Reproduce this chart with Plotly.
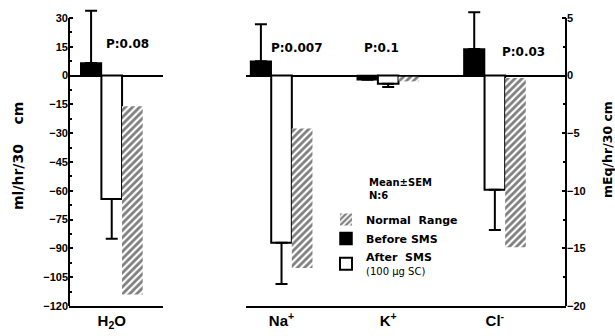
import plotly.graph_objects as go

W, H = 615, 336

# ---- data ----
water_cat = ["H<sub>2</sub>O"]
ion_cats = ["Na<sup>+</sup>", "K<sup>+</sup>", "Cl<sup>-</sup>"]

water_before = [6.5]
water_before_sem = [27.3]
water_after = [-64.3]
water_after_sem = [20.7]
water_norm_high = [-16.0]
water_norm_low = [-114.0]

ion_before = [1.25, -0.35, 2.3]
ion_before_sem = [3.2, 0.25, 3.2]
ion_after = [-14.5, -0.7, -9.9]
ion_after_sem = [3.6, 0.3, 3.5]
ion_norm_high = [-4.6, -0.1, -0.2]
ion_norm_low = [-16.7, -0.5, -14.9]

p_water = ["P:0.08"]
p_ions = ["P:0.007", "P:0.1", "P:0.03"]

left_ticks = list(range(-120, 31, 15))
right_ticks = list(range(-20, 6, 5))

# ---- helpers ----
def px(x):
    return x / W

def py(y):
    return 1 - y / H

BOLD = dict(family="Liberation Sans, Arial, sans-serif", color="black", weight="bold")
WIDE = dict(family="DejaVu Sans, sans-serif", color="black", weight="bold")
hatch = dict(shape="/", fgcolor="black", bgcolor="white", size=5, solidity=0.55)

fig = go.Figure()

def add_set(cats, before, bsem, after, asem, nhigh, nlow, xa, ya, show):
    zeros = [0] * len(cats)
    fig.add_trace(go.Bar(
        x=cats, y=before, name="Before SMS", xaxis=xa, yaxis=ya,
        marker=dict(color="black", line=dict(color="black", width=1.5)),
        error_y=dict(type="data", symmetric=False, array=bsem, arrayminus=zeros,
                     color="black", thickness=2, width=6),
        showlegend=show, legendgroup="b", legendrank=2,
    ))
    fig.add_trace(go.Bar(
        x=cats, y=after,
        name="After  SMS<br><span style='font-weight:normal;font-size:10px'>(100 µg SC)</span>",
        xaxis=xa, yaxis=ya,
        marker=dict(color="white", line=dict(color="black", width=2)),
        error_y=dict(type="data", symmetric=False, array=zeros, arrayminus=asem,
                     color="black", thickness=2, width=6),
        showlegend=show, legendgroup="a", legendrank=3,
    ))
    fig.add_trace(go.Bar(
        x=cats, y=[l - h for l, h in zip(nlow, nhigh)], base=nhigh,
        name="Normal  Range", xaxis=xa, yaxis=ya,
        marker=dict(color="white", pattern=hatch, line=dict(width=0)),
        showlegend=show, legendgroup="n", legendrank=1,
    ))

add_set(water_cat, water_before, water_before_sem, water_after, water_after_sem,
        water_norm_high, water_norm_low, "x", "y", False)
add_set(ion_cats, ion_before, ion_before_sem, ion_after, ion_after_sem,
        ion_norm_high, ion_norm_low, "x2", "y2", True)

# plot area extends a little above the top tick so error bars are not clipped
TOP_PX, BOT_PX = 8, 306
ydom = [1 - BOT_PX / H, 1 - TOP_PX / H]
extra = (18 - TOP_PX) / (BOT_PX - 18)   # fraction of axis span above top tick

axis_common = dict(showgrid=False, automargin=False)

fig.update_layout(
    width=W, height=H,
    margin=dict(l=0, r=0, t=0, b=0, autoexpand=False),
    paper_bgcolor="white", plot_bgcolor="white",
    barmode="group", bargap=0.42, bargroupgap=0,
    xaxis=dict(domain=[px(69), px(163)], anchor="y", range=[-0.40, 0.48],
               showline=True, linecolor="black", linewidth=2,
               ticks="", tickfont=dict(size=15, **BOLD), **axis_common),
    yaxis=dict(domain=ydom, anchor="x", range=[-120, 30 + 150 * extra],
               showline=False,
               tickvals=left_ticks, ticks="inside", ticklen=4, tickwidth=1.5,
               tickcolor="black",
               minor=dict(tickvals=[v + 7.5 for v in left_ticks[:-1]], ticks="inside",
                          ticklen=3, tickcolor="black"),
               zeroline=True, zerolinecolor="black", zerolinewidth=2,
               tickfont=dict(size=11, **BOLD), **axis_common),
    xaxis2=dict(domain=[px(246), px(566)], anchor="y2", range=[-0.333, 2.667],
                showline=True, linecolor="black", linewidth=2,
                ticks="", tickfont=dict(size=15, **BOLD), **axis_common),
    yaxis2=dict(domain=ydom, anchor="x2", side="right", range=[-20, 5 + 25 * extra],
                showline=False,
                tickvals=right_ticks, ticks="inside", ticklen=4, tickwidth=1.5,
                tickcolor="black",
                minor=dict(tickvals=[v + 2.5 for v in right_ticks[:-1]], ticks="inside",
                           ticklen=3, tickcolor="black"),
                zeroline=True, zerolinecolor="black", zerolinewidth=2,
                tickfont=dict(size=11, **BOLD), **axis_common),
    legend=dict(
        x=px(326), y=py(205), xanchor="left", yanchor="top",
        bgcolor="rgba(0,0,0,0)", borderwidth=0,
        font=dict(size=11, **WIDE),
        itemwidth=30, tracegroupgap=0, traceorder="normal",
    ),
    showlegend=True,
)

# vertical axis lines, ending at the top tick
fig.add_shape(type="line", xref="x domain", yref="y", x0=0, x1=0,
              y0=left_ticks[0], y1=left_ticks[-1], line=dict(color="black", width=2))
fig.add_shape(type="line", xref="x2 domain", yref="y2", x0=1, x1=1,
              y0=right_ticks[0], y1=right_ticks[-1], line=dict(color="black", width=2))

# Legend header
fig.add_annotation(text="Mean±SEM<br>N:6", x=px(367), y=py(189), xref="paper", yref="paper",
                   showarrow=False, xanchor="left", yanchor="middle", align="left",
                   font=dict(size=10, **WIDE))

# P-value annotations
for txt, xp, yp in zip(p_water + p_ions, [127, 297, 381, 523], [44, 48, 48, 52]):
    fig.add_annotation(text=txt, x=px(xp), y=py(yp), xref="paper", yref="paper",
                       showarrow=False, xanchor="center", yanchor="middle",
                       font=dict(size=12, **WIDE))

# Axis titles
fig.add_annotation(text="ml/hr/30\u00a0\u00a0\u00a0\u00a0cm", x=px(18), y=py(156),
                   xref="paper", yref="paper", showarrow=False, textangle=-90,
                   xanchor="center", yanchor="middle",
                   font=dict(size=14, **WIDE))
fig.add_annotation(text="mEq/hr/30 cm", x=px(607), y=py(150),
                   xref="paper", yref="paper", showarrow=False, textangle=-90,
                   xanchor="center", yanchor="middle",
                   font=dict(size=12.5, **WIDE))

fig.write_html("out.html")
